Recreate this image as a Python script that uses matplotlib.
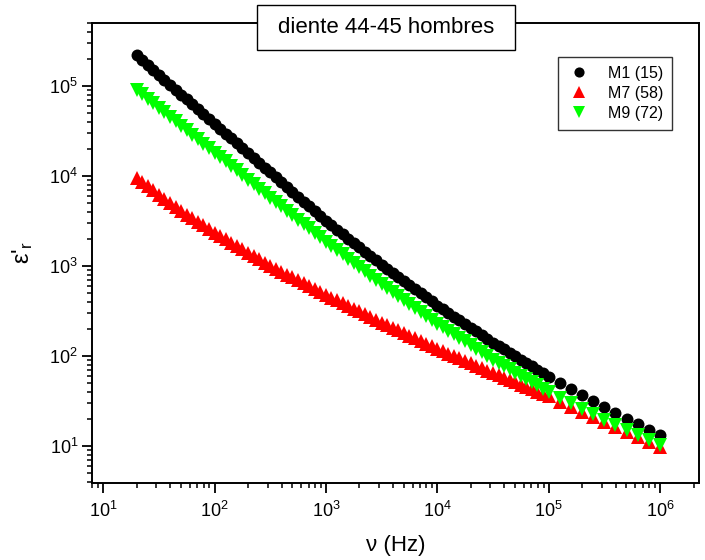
import numpy as np
import matplotlib
matplotlib.use('Agg')
import matplotlib.pyplot as plt
from matplotlib.patches import Rectangle
from matplotlib.ticker import LogLocator, NullFormatter

plt.rcParams['font.family'] = ['Liberation Sans', 'DejaVu Sans']
plt.rcParams['mathtext.default'] = 'regular'

# frequency sweep (Hz)
freq = [20, 22.4, 25.1, 28.2, 31.6, 35.5, 39.8, 44.7, 50.1, 56.2, 63.1, 70.8, 79.4, 89.1,
        100, 112, 126, 141, 158, 178, 200, 224, 251, 282, 316, 355, 398, 447, 501, 562,
        631, 708, 794, 891,
        1000, 1120, 1260, 1410, 1580, 1780, 2000, 2240, 2510, 2820, 3160, 3550, 3980,
        4470, 5010, 5620, 6310, 7080, 7940, 8910,
        10000, 11200, 12600, 14100, 15800, 17800, 20000, 22400, 25100, 28200, 31600,
        35500, 39800, 44700, 50100, 56200, 63100, 70800, 79400, 89100,
        100000, 126000, 158000, 200000, 251000, 316000, 398000, 501000, 631000,
        794000, 1000000]

# real permittivity of each sample
eps_m1 = [219000, 193000, 170000, 150000, 132000, 116000, 103000, 90800, 80200, 70800,
          62500, 55200, 48800, 43100,
          38000, 33600, 29600, 26200, 23100, 20400, 18000, 15900, 14100, 12400, 11000,
          9680, 8550, 7550, 6670, 5890, 5200, 4600, 4070, 3610,
          3160, 2820, 2520, 2250, 2010, 1800, 1610, 1440, 1280, 1150, 1020, 923, 832,
          750, 676, 610, 550, 496, 447, 403,
          363, 330, 301, 274, 249, 226, 206, 188, 171, 155, 141, 129, 119, 109, 99.5,
          91.2, 83.6, 76.6, 70.2, 64.3,
          58.9, 50.4, 43.1, 36.8, 31.5, 26.9, 23.3, 20.2, 17.5, 15.2, 13.2]

eps_m7 = [9550, 8570, 7670, 6890, 6170, 5570, 5040, 4550, 4110, 3720, 3390, 3090, 2820, 2570,
          2340, 2150, 1980, 1820, 1670, 1530, 1410, 1290, 1190, 1090, 1000, 929, 863,
          802, 745, 692, 643, 597, 555, 515,
          479, 446, 415, 386, 360, 335, 312, 290, 270, 252, 234, 219, 205, 192, 180,
          168, 157, 147, 137, 129,
          120, 113, 106, 99.8, 93.8, 88.1, 82.8, 77.8, 73.1, 68.7, 64.6, 60.8, 57.3,
          54.0, 50.8, 47.9, 45.1, 42.5, 40.0, 37.7,
          35.5, 31.2, 27.4, 24.1, 21.2, 18.6, 16.4, 14.4, 12.6, 11.1, 9.77]

eps_m9 = [91200, 81300, 72400, 64600, 57500, 51300, 45700, 40700, 36300, 32400, 28800,
          25700, 22900, 20400,
          18200, 16200, 14500, 12900, 11500, 10200, 9120, 8130, 7240, 6460, 5750, 5140,
          4590, 4100, 3660, 3270, 2920, 2610, 2330, 2080,
          1860, 1670, 1500, 1350, 1210, 1080, 973, 873, 783, 703, 631, 570, 515, 466,
          421, 380, 344, 310, 281, 254,
          229, 209, 191, 174, 158, 145, 132, 120, 110, 100, 91.2, 83.9, 77.3, 71.1,
          65.5, 60.3, 55.5, 51.1, 47.0, 43.3,
          39.8, 34.5, 29.9, 25.9, 22.5, 19.5, 17.1, 15.1, 13.2, 11.6, 10.2]

labels = ['M1 (15)', 'M7 (58)', 'M9 (72)']

fig = plt.figure(figsize=(7.05, 5.6), dpi=100)
ax = fig.add_axes([92 / 705, 1 - 483 / 560, 607 / 705, 460 / 560])

ax.plot(freq, eps_m1, 'o', color='black', ms=8.6, mew=0, label=labels[0])
ax.plot(freq, eps_m7, '^', color='#ff0000', ms=10, mew=0, label=labels[1])
ax.plot(freq, eps_m9, 'v', color='#00ff00', ms=10, mew=0, label=labels[2])

ax.set_xscale('log')
ax.set_yscale('log')
ax.set_xlim(7.94, 2.24e6)
ax.set_ylim(3.88, 5.0e5)

for axis in (ax.xaxis, ax.yaxis):
    axis.set_major_locator(LogLocator(base=10, numticks=20))
    axis.set_minor_locator(LogLocator(base=10, subs=np.arange(2, 10), numticks=20))
    axis.set_minor_formatter(NullFormatter())

ax.tick_params(which='major', direction='out', length=7, width=1.3, labelsize=13)
ax.tick_params(which='minor', direction='out', length=3.8, width=1.1)
ax.tick_params(axis='x', which='major', pad=6)
ax.tick_params(axis='y', which='major', pad=3)
for s in ax.spines.values():
    s.set_linewidth(1.4)

ax.set_xlabel('ν (Hz)', fontsize=16, labelpad=10)
ax.set_ylabel("ε'$_r$", fontsize=17, labelpad=10)

leg = ax.legend(loc='upper right', bbox_to_anchor=(0.9555, 0.926), borderaxespad=0,
                fontsize=11.5, frameon=True, fancybox=False, handletextpad=1.0,
                labelspacing=0.32, borderpad=0.55, handlelength=1.6, markerscale=0.85)
leg.get_frame().set_edgecolor('black')
leg.get_frame().set_linewidth(1.0)

# title box sitting on the top spine
fig.patches.append(Rectangle((257 / 705, 1 - 50 / 560), 258 / 705, 45 / 560,
                             transform=fig.transFigure, facecolor='white',
                             edgecolor='black', linewidth=1.0, zorder=5))
fig.text(386 / 705, 1 - 27.5 / 560, 'diente 44-45 hombres', fontsize=16,
         ha='center', va='center', zorder=6)

fig.savefig('out.png', dpi=100)
